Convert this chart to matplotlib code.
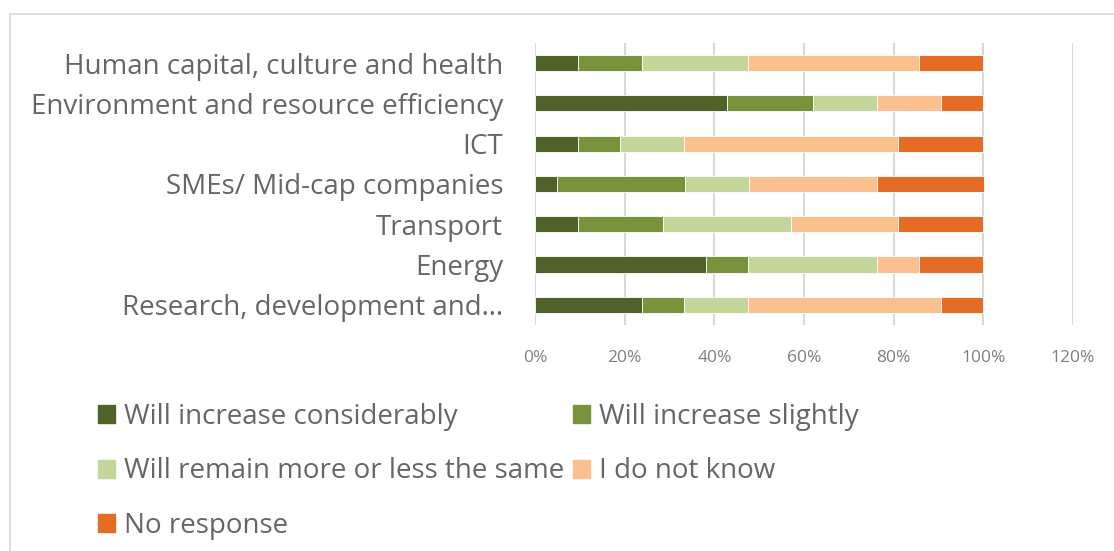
import numpy as np
import matplotlib.pyplot as plt
from matplotlib.lines import Line2D
from matplotlib.patches import Patch

plt.rcParams['font.family'] = ['Open Sans', 'DejaVu Sans']

# sectors, bottom to top as they appear on the y axis
sectors = ['Research, development and\u2026', 'Energy', 'Transport',
           'SMEs/ Mid-cap companies', 'ICT',
           'Environment and resource efficiency',
           'Human capital, culture and health']

series_names = ['Will increase considerably', 'Will increase slightly',
                'Will remain more or less the same', 'I do not know',
                'No response']

# shares of respondents (%) per sector, same order as sectors
increase_considerably = [23.8, 38.1, 9.5, 4.8, 9.5, 42.9, 9.5]
increase_slightly = [9.5, 9.5, 19.0, 28.6, 9.5, 19.0, 14.3]
remain_same = [14.3, 28.6, 28.6, 14.3, 14.3, 14.3, 23.8]
do_not_know = [42.9, 9.5, 23.8, 28.6, 47.6, 14.3, 38.1]
no_response = [9.5, 14.3, 19.0, 23.8, 19.0, 9.5, 14.3]

colors = ['#4F6228', '#77933C', '#C4D79B', '#FAC090', '#E46C25']
xticks = [0, 20, 40, 60, 80, 100, 120]

fig = plt.figure(figsize=(11.14, 5.51), dpi=100)
ax = fig.add_axes([0.4803, 0.4102, 0.4829, 0.5118])

all_series = [increase_considerably, increase_slightly, remain_same,
              do_not_know, no_response]
y = np.arange(len(sectors))
left = np.zeros(len(sectors))
for vals, c in zip(all_series, colors):
    vals = np.array(vals) / 100
    ax.barh(y, vals, left=left, height=0.4, color=c,
            edgecolor='white', linewidth=0.6, zorder=3)
    left += vals

ax.set_xlim(0, 1.2)
ax.set_ylim(-0.5, len(sectors) - 0.5)
ax.set_xticks([t / 100 for t in xticks])
ax.set_xticklabels([f'{t}%' for t in xticks])
ax.set_yticks(y)
ax.set_yticklabels(sectors)
ax.xaxis.grid(True, color='#d9d9d9', linewidth=1.5, zorder=0)
ax.tick_params(axis='x', length=0, labelsize=12.5, labelcolor='#7f7f7f', pad=18)
ax.tick_params(axis='y', length=0, labelsize=20, labelcolor='#666666', pad=23)
for s in ax.spines.values():
    s.set_visible(False)

# legend, row-major reading order with two columns
handles = [Patch(color=c) for c in colors]
order = [0, 2, 4, 1, 3]
fig.legend([handles[i] for i in order], [series_names[i] for i in order],
           ncol=2, loc='upper left', bbox_to_anchor=(0.078, 0.2886),
           frameon=False, fontsize=20, labelcolor='#666666',
           handlelength=0.6, handleheight=0.6, handletextpad=0.35,
           columnspacing=0.3, labelspacing=0.95, borderaxespad=0)

# thin outer frame on the top and left edges
fig.add_artist(Line2D([10 / 1114, 1], [1 - 14 / 551] * 2, color='#d9d9d9', lw=1.2))
fig.add_artist(Line2D([10 / 1114] * 2, [0, 1 - 14 / 551], color='#d9d9d9', lw=1.2))

fig.savefig('out.png', dpi=100)
